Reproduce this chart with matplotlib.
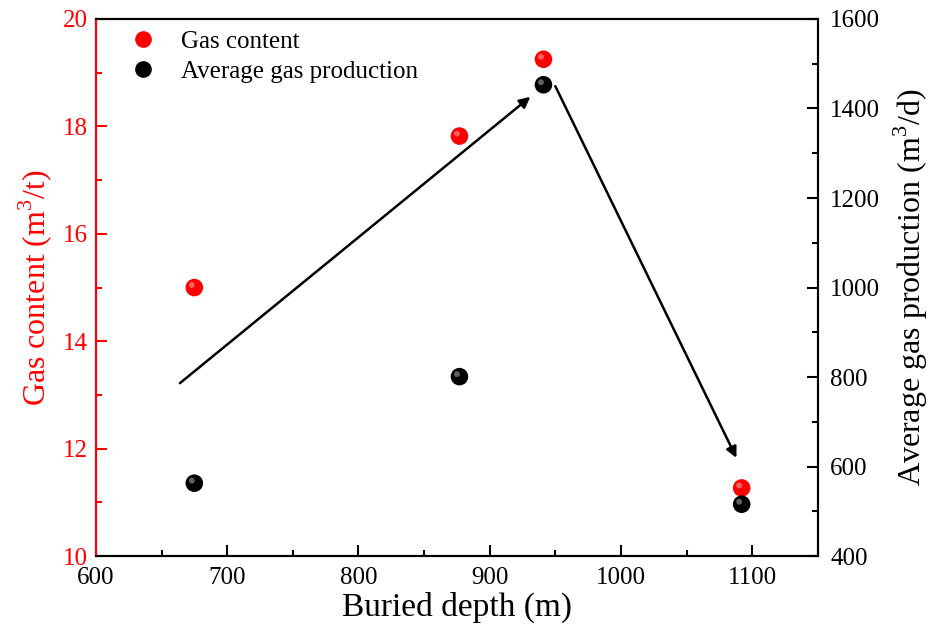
import matplotlib
matplotlib.use("Agg")
import matplotlib.pyplot as plt
from matplotlib.ticker import MultipleLocator

plt.rcParams['font.family'] = ['Liberation Serif', 'DejaVu Serif']
plt.rcParams['mathtext.fontset'] = 'custom'
plt.rcParams['mathtext.rm'] = 'Liberation Serif'

# buried depth (m) of the four wells
depth = [675, 877, 941, 1092]
gas_content = [15.0, 17.82, 19.25, 11.27]       # m3/t
avg_production = [563, 801, 1453, 516]          # m3/d

# trend arrows (depth, gas content) start -> end
arrow_up = [(664, 13.22), (931, 18.55)]
arrow_down = [(950, 18.75), (1088, 11.83)]

RED = '#ff0000'


def sphere(ax, x, y, color, shine):
    # base ball plus a small offset highlight to fake shading
    ax.scatter(x, y, s=160, color=color, edgecolors='none', zorder=4)
    off = matplotlib.transforms.ScaledTranslation(-2.5 / 100, 2.5 / 100, ax.figure.dpi_scale_trans)
    ax.scatter(x, y, s=18, color=shine, edgecolors='none', alpha=0.55, zorder=5,
               transform=ax.transData + off)


fig, ax = plt.subplots(figsize=(9.4, 6.32), dpi=100)
fig.subplots_adjust(left=0.102, right=0.870, top=0.970, bottom=0.120)
ax2 = ax.twinx()

sphere(ax, depth, gas_content, RED, '#ffb0b0')
sphere(ax2, depth, avg_production, 'black', '#b0b0b0')

for start, end in (arrow_up, arrow_down):
    ax.annotate('', xy=end, xytext=start,
                arrowprops=dict(arrowstyle='-|>', color='black', lw=1.8,
                                mutation_scale=16, shrinkA=0, shrinkB=0))

ax.set_xlim(600, 1150)
ax.set_ylim(10, 20)
ax2.set_ylim(400, 1600)

ax.xaxis.set_major_locator(MultipleLocator(100))
ax.xaxis.set_minor_locator(MultipleLocator(50))
ax.yaxis.set_major_locator(MultipleLocator(2))
ax.yaxis.set_minor_locator(MultipleLocator(1))
ax2.yaxis.set_major_locator(MultipleLocator(200))
ax2.yaxis.set_minor_locator(MultipleLocator(100))

ax.tick_params(axis='both', which='both', direction='in', top=False, labelsize=18)
ax.tick_params(which='major', length=8, width=1.5)
ax.tick_params(which='minor', length=4, width=1.5)
ax.tick_params(axis='x', which='both', pad=8)
ax.tick_params(axis='y', which='both', colors=RED, pad=6)
ax2.tick_params(axis='y', which='both', direction='in', labelsize=18, pad=9)
ax2.tick_params(which='major', length=8, width=1.5)
ax2.tick_params(which='minor', length=4, width=1.5)

for a in (ax, ax2):
    for sp in a.spines.values():
        sp.set_linewidth(1.5)
ax2.spines['left'].set_color(RED)
ax.spines['left'].set_color(RED)

ax.set_xlabel('Buried depth (m)', fontsize=24, labelpad=2)
ax.set_ylabel('Gas content (m$^{3}$/t)', fontsize=23, color=RED, labelpad=6)
ax2.set_ylabel('Average gas production (m$^{3}$/d)', fontsize=23, labelpad=8)

handles = [
    plt.Line2D([], [], ls='none', marker='o', ms=11, color=RED, label='Gas content'),
    plt.Line2D([], [], ls='none', marker='o', ms=11, color='black', label='Average gas production'),
]
ax.legend(handles=handles, loc='upper left', bbox_to_anchor=(0.0, 1.02), frameon=False,
          fontsize=18, handletextpad=0.5, labelspacing=0.3)

fig.savefig('out.png', dpi=100)
